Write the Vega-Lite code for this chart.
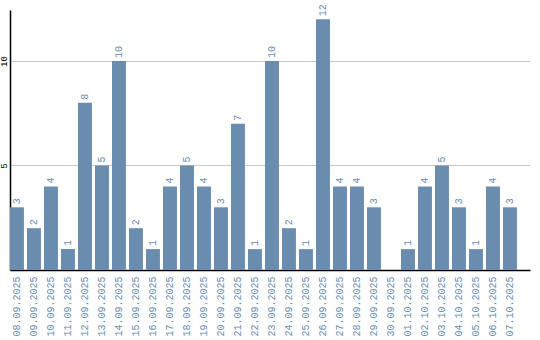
{
  "$schema": "https://vega.github.io/schema/vega-lite/v6.json",
  "width": 520,
  "height": 260,
  "autosize": "none",
  "padding": {"left": 10, "top": 10, "right": 10, "bottom": 70},
  "background": "white",
  "data": {"values": [
    {"date": "08.09.2025", "count": 3},
    {"date": "09.09.2025", "count": 2},
    {"date": "10.09.2025", "count": 4},
    {"date": "11.09.2025", "count": 1},
    {"date": "12.09.2025", "count": 8},
    {"date": "13.09.2025", "count": 5},
    {"date": "14.09.2025", "count": 10},
    {"date": "15.09.2025", "count": 2},
    {"date": "16.09.2025", "count": 1},
    {"date": "17.09.2025", "count": 4},
    {"date": "18.09.2025", "count": 5},
    {"date": "19.09.2025", "count": 4},
    {"date": "20.09.2025", "count": 3},
    {"date": "21.09.2025", "count": 7},
    {"date": "22.09.2025", "count": 1},
    {"date": "23.09.2025", "count": 10},
    {"date": "24.09.2025", "count": 2},
    {"date": "25.09.2025", "count": 1},
    {"date": "26.09.2025", "count": 12},
    {"date": "27.09.2025", "count": 4},
    {"date": "28.09.2025", "count": 4},
    {"date": "29.09.2025", "count": 3},
    {"date": "30.09.2025", "count": 0},
    {"date": "01.10.2025", "count": 1},
    {"date": "02.10.2025", "count": 4},
    {"date": "03.10.2025", "count": 5},
    {"date": "04.10.2025", "count": 3},
    {"date": "05.10.2025", "count": 1},
    {"date": "06.10.2025", "count": 4},
    {"date": "07.10.2025", "count": 3}
  ]},
  "encoding": {
    "x": {
      "field": "date", "type": "nominal", "sort": null,
      "scale": {"paddingInner": 0.18, "paddingOuter": 0.384, "align": 0},
      "axis": {
        "title": null, "labelAngle": -90, "ticks": false, "labelPadding": 6,
        "labelFont": "Liberation Mono", "labelFontSize": 10, "labelColor": "#6a8caf",
        "domainColor": "#000000", "domainWidth": 1.5, "grid": false
      }
    },
    "y": {
      "field": "count", "type": "quantitative",
      "scale": {"domain": [0, 12.44], "nice": false},
      "axis": {
        "title": null, "values": [5, 10], "ticks": false, "labelAngle": -90,
        "labelAlign": "center", "labelBaseline": "bottom", "labelPadding": 2,
        "labelFont": "Liberation Mono", "labelFontSize": 9, "labelColor": "#000000",
        "domainColor": "#000000", "domainWidth": 1.5,
        "grid": true, "gridColor": "#c8c8c8", "gridWidth": 1
      }
    }
  },
  "layer": [
    {"mark": {"type": "bar", "color": "#6a8caf"}},
    {
      "transform": [{"filter": "datum.count > 0"}],
      "mark": {"type": "text", "angle": -90, "align": "left", "baseline": "middle", "dx": 3,
               "font": "Liberation Mono", "fontSize": 10, "color": "#6a8caf"},
      "encoding": {"text": {"field": "count", "type": "quantitative"}}
    }
  ],
  "config": {"view": {"stroke": null}}
}
